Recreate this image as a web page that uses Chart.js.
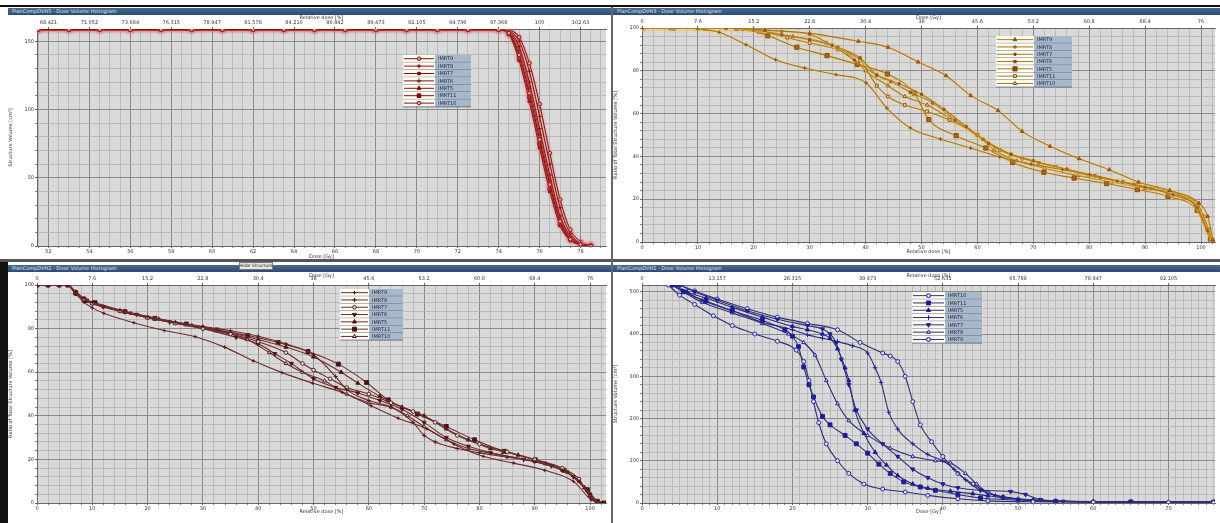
<!DOCTYPE html>
<html>
<head>
<meta charset="utf-8">
<script src="https://cdn.jsdelivr.net/npm/chart.js@4.4.1/dist/chart.umd.min.js"></script>
<style>
  html, body { margin: 0; padding: 0; background: #fff; }
  #page { position: relative; width: 1220px; height: 523px; overflow: hidden; background: #fff; }
  .bar { position: absolute; height: 7px; background: linear-gradient(#4a6a90, #2c4a72); color: #dfe7f0;
         font: 5px "DejaVu Sans", sans-serif; line-height: 7px; padding-left: 4px; box-sizing: border-box; white-space: nowrap; }
  canvas { position: absolute; }
  .btn { position: absolute; left: 239px; top: 262px; width: 34px; height: 8px; background: #e8e8e8; border: 1px solid #777;
         font: 4.5px "DejaVu Sans", sans-serif; line-height: 6px; text-align: center; box-sizing: border-box; color: #222; white-space: nowrap; overflow: hidden; }
</style>
</head>
<body>
<div id="page">
  <div style="position:absolute;left:0;top:5px;width:1220px;height:2px;background:#111"></div>
  <div style="position:absolute;left:0;top:259px;width:1220px;height:3px;background:#555"></div>
  <div style="position:absolute;left:0;top:262px;width:8px;height:261px;background:#111"></div>
  <div style="position:absolute;left:611px;top:7px;width:2px;height:516px;background:#666"></div>
  <div class="bar" style="left:8px;top:8px;width:603px">PlanCompDVH5 - Dose Volume Histogram</div>
  <div class="bar" style="left:613px;top:8px;width:607px">PlanCompDVH3 - Dose Volume Histogram</div>
  <div class="bar" style="left:8px;top:265px;width:603px">PlanCompDVH2 - Dose Volume Histogram</div>
  <div class="bar" style="left:613px;top:265px;width:607px">PlanCompDVH1 - Dose Volume Histogram</div>
  <div class="btn">Hide Structure</div>
  <canvas id="tl" width="603" height="245" style="left:8px;top:15px"></canvas>
  <canvas id="tr" width="607" height="245" style="left:613px;top:15px"></canvas>
  <canvas id="bl" width="603" height="250" style="left:8px;top:273px"></canvas>
  <canvas id="br" width="607" height="250" style="left:613px;top:273px"></canvas>
</div>
<script>
// ---------- top left: PTV, structure volume [cm3] vs dose [Gy] ----------
const TL_NAMES = ['IMRT9', 'IMRT8', 'IMRT7', 'IMRT6', 'IMRT5', 'IMRT11', 'IMRT10']
const TL_DOSE = [51.5, 53, 54.5, 56, 57.5, 59, 60.5, 62, 63.5, 65, 66.5, 68, 69.5, 71, 72.5, 74,
  74.5, 75, 75.5, 76, 76.5, 77, 77.5, 78, 78.5]
const TL_VOL = [
  [158.5, 158.5, 158.5, 158.5, 158.5, 158.5, 158.5, 158.5, 158.5, 158.5, 158.5, 158.5, 158.5, 158.5, 158.5, 158.5, 156, 140, 112, 78, 45, 18, 5, 1, 0],
  [158.5, 158.5, 158.5, 158.5, 158.5, 158.5, 158.5, 158.5, 158.5, 158.5, 158.5, 158.5, 158.5, 158.5, 158.5, 158.5, 157, 146, 120, 86, 52, 22, 7, 1.5, 0.5],
  [158.5, 158.5, 158.5, 158.5, 158.5, 158.5, 158.5, 158.5, 158.5, 158.5, 158.5, 158.5, 158.5, 158.5, 158.5, 158.5, 155, 136, 106, 72, 40, 15, 4, 1, 0],
  [158.5, 158.5, 158.5, 158.5, 158.5, 158.5, 158.5, 158.5, 158.5, 158.5, 158.5, 158.5, 158.5, 158.5, 158.5, 158.5, 157.5, 150, 128, 95, 60, 28, 9, 2, 0.5],
  [158.5, 158.5, 158.5, 158.5, 158.5, 158.5, 158.5, 158.5, 158.5, 158.5, 158.5, 158.5, 158.5, 158.5, 158.5, 158.5, 156.5, 143, 116, 82, 48, 20, 6, 1.5, 0],
  [158.5, 158.5, 158.5, 158.5, 158.5, 158.5, 158.5, 158.5, 158.5, 158.5, 158.5, 158.5, 158.5, 158.5, 158.5, 158.5, 155.5, 138, 109, 75, 42, 16, 5, 1, 0],
  [158.5, 158.5, 158.5, 158.5, 158.5, 158.5, 158.5, 158.5, 158.5, 158.5, 158.5, 158.5, 158.5, 158.5, 158.5, 158.5, 158, 153, 134, 104, 68, 34, 12, 3, 0.5]
]
const TL_X_TICKS = [52, 54, 56, 58, 60, 62, 64, 66, 68, 70, 72, 74, 76, 78]
const TL_X_LABELS = ['52', '54', '56', '58', '60', '62', '64', '66', '68', '70', '72', '74', '76', '78']
const TL_TOP_LABELS = ['68.421', '71.052', '73.684', '76.315', '78.947', '81.578', '84.210', '86.842',
  '89.473', '92.105', '94.736', '97.368', '100', '102.63']
const TL_Y_TICKS = [0, 50, 100, 150]
const TL_Y_LABELS = ['0', '50', '100', '150']

// ---------- top right: ratio of total structure volume [%] vs relative dose [%] ----------
const TR_NAMES = ['IMRT9', 'IMRT8', 'IMRT7', 'IMRT6', 'IMRT5', 'IMRT11', 'IMRT10']
const TR_X = [
  [0, 15, 22, 30, 38.7, 44, 49.4, 54.4, 58.8, 63.7, 68, 73, 78.2, 83.6, 88.8, 94.4, 99.6, 101.2, 102.1],
  [0, 5, 10, 13.8, 18.6, 23.9, 29.1, 34.7, 40.1, 43.8, 48, 53.4, 58.8, 64, 69.6, 75.2, 80.1, 85, 90, 95, 99.3, 101.2, 102.2],
  [0, 5, 10, 15, 20, 25, 30, 34, 38, 42, 46, 50, 54, 58, 62, 66, 70, 76, 82, 88, 94, 99, 101, 102.2],
  [0, 5, 10, 15, 20, 25, 30, 35, 39, 42, 44.5, 48, 52, 56, 61, 66, 71, 76, 81, 86, 91, 96, 99.5, 101.3, 102.2],
  [0, 5.6, 11.3, 16.9, 22.5, 27.7, 33.1, 38.5, 43.9, 48.7, 51.3, 56.2, 61.5, 66.3, 71.9, 77.3, 83.1, 88.6, 94.1, 99.3, 101.7, 102.3],
  [0, 5, 10, 15, 18, 22, 26, 30, 35, 39, 42, 44, 47, 51, 55, 60, 64, 68, 74, 80, 86, 92, 98, 100.5, 102],
  [0, 5, 10, 15, 17, 21, 27, 33, 37, 40, 44, 47, 51, 55, 60, 63, 67, 72, 78, 84, 90, 95, 99.5, 101.5, 102.2]
]
const TR_Y = [
  [100, 100, 99, 97.5, 93.8, 91, 84.1, 77.7, 68.4, 61.4, 51.7, 44.7, 38.9, 33.8, 28, 24.1, 18.2, 12, 1],
  [100, 100, 99.5, 98, 92.2, 85.2, 81.3, 78.2, 74.3, 62.6, 53.3, 48.1, 43.9, 39.7, 36.4, 33.8, 31.5, 28.5, 25.5, 22, 16, 5, 0],
  [100, 100, 100, 100, 99.5, 98.5, 97, 92, 85, 78, 74, 69, 62, 54, 46, 41, 38, 34, 30, 27, 23, 17, 6, 0],
  [100, 100, 100, 100, 99, 97, 94.5, 91, 86, 78, 75, 70, 65, 57, 48, 41, 37, 34, 31, 28, 25, 22, 17, 6, 0],
  [100, 100, 100, 100, 96.4, 91, 87.1, 83, 78.5, 69.6, 57.2, 49.7, 43.9, 37.2, 32.6, 29.9, 27.3, 24.5, 21.3, 14.8, 1.4, 0],
  [100, 100, 100, 100, 99.5, 98, 95.5, 93, 90, 85, 73, 68, 64, 61, 57, 50, 43, 39, 35, 31, 28, 25, 20, 12, 0],
  [100, 100, 100, 100, 99.5, 98, 96, 93, 88, 80, 73, 68, 64, 58, 50, 43, 38, 34.5, 31, 28, 25, 22.5, 16, 4, 0]
]
const PCT_TICKS = [0, 10, 20, 30, 40, 50, 60, 70, 80, 90, 100]
const PCT_LABELS = ['0', '10', '20', '30', '40', '50', '60', '70', '80', '90', '100']
const GY_TOP_LABELS = ['0', '7.6', '15.2', '22.8', '30.4', '38', '45.6', '53.2', '60.8', '68.4', '76']
const RATIO_TICKS = [0, 20, 40, 60, 80, 100]
const RATIO_LABELS = ['0', '20', '40', '60', '80', '100']

// ---------- bottom left: ratio of total structure volume [%] vs relative dose [%] ----------
const BL_NAMES = ['IMRT9', 'IMRT8', 'IMRT7', 'IMRT6', 'IMRT5', 'IMRT11', 'IMRT10']
const BL_X = [
  [0, 2, 4, 5.5, 7, 8.5, 10, 12.1, 17.5, 23, 28.6, 33.9, 39.1, 44.3, 49.8, 55.2, 60.4, 65.3, 70.5, 75.4, 80.7, 86.2, 91.8, 97, 100.2, 102],
  [0, 2, 4, 5.5, 7, 8.5, 10, 15, 20, 25, 30, 35, 40, 45, 50, 54, 56, 60, 64, 68, 70, 72, 76, 80, 85, 90, 95, 98, 100, 101.5],
  [0, 2, 4, 5.5, 7, 8.5, 10, 15, 20, 25, 30, 35, 40, 45, 48, 50, 53, 56, 60, 64, 68, 72, 76, 80, 85, 90, 95, 98, 100, 101.5],
  [0, 2, 4, 5.5, 7, 9, 12, 18, 24, 30, 36, 40, 43, 46, 50, 54, 58, 62, 66, 70, 74, 78, 82, 88, 93, 97, 100, 101.5],
  [0, 2, 4, 5.5, 7, 8.5, 10, 15, 20, 25, 30, 35, 40, 45, 50, 55, 58, 62, 66, 70, 74, 78, 82, 87, 92, 96, 99, 101.5],
  [0, 2, 4, 5.6, 7, 8.5, 10.5, 15.9, 21.3, 27, 32.5, 38.1, 43.6, 49, 54.5, 59.6, 63.5, 68.8, 74, 79.1, 84.5, 90.1, 95.3, 99.5, 101.3, 102.5],
  [0, 2, 4, 5.5, 7, 9, 12, 17, 22, 28, 33, 38, 42, 45, 48, 52, 56, 60, 64, 67, 70, 74, 78, 84, 90, 95, 98, 100, 101.5]
]
const BL_Y = [
  [100, 100, 100, 100, 96, 92, 89.5, 87, 82.7, 79.1, 76.3, 71.5, 65.2, 59.8, 55, 50.7, 44.6, 38.9, 34, 27, 21.4, 18.3, 15, 9.9, 1.5, 0],
  [100, 100, 100, 100, 97, 94, 92, 88.5, 85.5, 83, 81, 79, 76.5, 73, 68, 58, 52, 47, 44, 37, 31, 28, 25, 23, 21, 19, 15, 10, 3, 0],
  [100, 100, 100, 100, 96.5, 93.5, 91.5, 88, 85, 82.5, 80, 77.5, 74, 69, 64, 61, 57, 53, 50, 46, 42, 37, 31, 27, 23.5, 20, 16, 11, 3, 0],
  [100, 100, 100, 100, 96, 93, 90, 86.5, 83, 80, 76, 73, 68.5, 64, 57, 53, 50.5, 47, 43, 37, 30, 26, 23, 20, 17, 12, 4, 0],
  [100, 100, 100, 100, 96, 93, 91.5, 88, 85, 82.5, 80.5, 78, 75, 71.5, 67, 60, 55, 49, 44, 40, 34, 29, 25, 22, 18, 14, 7, 0],
  [100, 100, 100, 100, 96.5, 93.5, 91.9, 87.8, 84.7, 82.1, 79.4, 76.8, 73.6, 69.5, 63.7, 55.3, 47.3, 40.8, 35.1, 29, 23.7, 19.8, 15, 6.1, 0.8, 0],
  [100, 100, 100, 100, 96, 92.5, 90, 87, 84.5, 81.5, 79, 75, 69, 64, 60, 56, 50, 46, 44, 40, 35, 29, 25, 22, 19, 15, 10, 3, 0]
]

// ---------- bottom right: structure volume [cm3] vs dose [Gy] ----------
const BR_NAMES = ['IMRT10', 'IMRT11', 'IMRT5', 'IMRT6', 'IMRT7', 'IMRT8', 'IMRT9']
const BR_X = [
  [3.5, 5, 7, 9.5, 12, 15, 18, 20.5, 21.5, 22.2, 22.8, 23.5, 24.5, 26, 27.5, 29.5, 32, 35, 38, 42, 46, 52, 60, 70, 76],
  [4, 5.5, 8.5, 12, 16, 19, 20, 20.8, 21.5, 22.2, 22.8, 24, 25, 27, 28.5, 30, 31.5, 33, 34.8, 37, 39, 42, 45, 50, 55, 65, 76],
  [4.5, 6, 8.5, 12, 16, 20, 22, 24, 25, 26, 27, 27.5, 28.3, 29.5, 31, 32.5, 34, 36, 38, 41, 44, 46, 48, 52, 60, 76],
  [4, 6, 8, 12, 16, 20, 22, 24, 26, 28, 30, 31, 31.8, 32.8, 34, 36, 38, 40, 41.5, 43, 45, 47, 50, 55, 65, 76],
  [5, 7, 10, 14, 18, 22, 24, 25, 25.8, 26.5, 27.5, 28.5, 30, 32, 34, 36, 38, 40, 42, 45, 49, 51, 53, 56, 65, 76],
  [4, 5.5, 8, 12, 16, 19.5, 21.5, 23, 24.5, 26, 27.5, 30, 33, 36, 39, 41, 43, 44.5, 46, 48, 52, 60, 76],
  [5, 7, 10, 14, 18, 22, 26, 29, 32, 33, 34, 35, 36, 37, 38.5, 40, 42, 44, 46, 48, 52, 60, 76]
]
const BR_Y = [
  [516, 492, 470, 443, 420, 400, 383, 362, 335, 290, 240, 190, 140, 100, 70, 45, 33, 26, 18, 10, 5, 3, 2, 1.5, 1],
  [516, 500, 478, 455, 432, 410, 395, 370, 322, 280, 251, 205, 185, 160, 140, 118, 92, 70, 50, 38, 30, 20, 12, 7, 4, 2.5, 2],
  [516, 500, 485, 463, 440, 418, 410, 400, 390, 365, 320, 290, 220, 165, 120, 90, 65, 45, 35, 28, 22, 17, 12, 7, 3, 2],
  [516, 498, 480, 455, 428, 410, 398, 390, 382, 372, 355, 320, 285, 215, 175, 140, 115, 100, 80, 55, 30, 18, 10, 5, 3, 2],
  [516, 500, 480, 455, 435, 420, 412, 400, 380, 340, 280, 220, 175, 140, 110, 80, 60, 45, 36, 30, 27, 20, 8, 4, 2.5, 2],
  [516, 500, 475, 450, 425, 400, 380, 350, 290, 235, 195, 160, 130, 110, 100, 95, 70, 45, 25, 14, 6, 3, 2],
  [516, 502, 483, 460, 440, 425, 410, 380, 355, 348, 335, 300, 240, 185, 145, 110, 70, 45, 25, 14, 6, 3, 2]
]
const BR_X_TICKS = [0, 10, 20, 30, 40, 50, 60, 70]
const BR_X_LABELS = ['0', '10', '20', '30', '40', '50', '60', '70']
const BR_TOP_LABELS = ['0', '13.157', '26.315', '39.473', '52.631', '65.789', '78.947', '92.105']
const BR_Y_TICKS = [0, 100, 200, 300, 400, 500]
const BR_Y_LABELS = ['0', '100', '200', '300', '400', '500']

// ---------- styling ----------
const FONT = { family: 'DejaVu Sans', size: 5 }
const MAJOR = '#8a8a8a'
const MINOR = '#b4b4b4'

// marker per legend row: [pointStyle, radius, filled, rotation]
const TL_MARK = [['circle', 1.8, false, 0], ['cross', 2.2, false, 0], ['rect', 1.8, true, 0], ['cross', 2.4, false, 0],
  ['triangle', 2.2, true, 0], ['rect', 2.6, true, 0], ['circle', 1.8, false, 0]]
const TR_MARK = [['triangle', 2.1, true, 0], ['cross', 2, false, 0], ['circle', 1.3, true, 0], ['rect', 1.7, true, 0],
  ['rect', 3, true, 0], ['rect', 2, false, 0], ['triangle', 2.1, false, 0]]
const BL_MARK = [['cross', 1.8, false, 0], ['cross', 2.1, false, 0], ['circle', 1.8, false, 0], ['triangle', 2.3, true, 180],
  ['triangle', 2.3, true, 0], ['rect', 2.8, true, 0], ['triangle', 2.1, false, 0]]
const BR_MARK = [['circle', 2, false, 0], ['rect', 2.8, true, 0], ['triangle', 2.4, true, 0], ['cross', 2.3, false, 0],
  ['triangle', 2.4, true, 180], ['triangle', 2.2, false, 0], ['circle', 2, false, 0]]

function gridTicks (min, max, step) {
  const out = []
  for (let v = Math.ceil(min / step - 1e-9) * step; v <= max + 1e-9; v += step) out.push(+v.toFixed(4))
  return out
}

function axis (pos, min, max, minor, majors, labels, title, size, withGrid) {
  const isMajor = v => majors.some(m => Math.abs(m - v) < 1e-6)
  return {
    type: 'linear',
    position: pos,
    min: min,
    max: max,
    afterBuildTicks: s => { s.ticks = (withGrid ? gridTicks(min, max, minor) : majors).map(v => ({ value: v })) },
    afterFit: s => {
      if (pos === 'left') s.width = size
      else s.height = size
      s.paddingLeft = 0; s.paddingRight = 0; s.paddingTop = 0; s.paddingBottom = 0
    },
    ticks: {
      autoSkip: false,
      maxRotation: 0,
      font: FONT,
      color: '#333',
      padding: 1,
      callback: v => {
        const i = majors.findIndex(m => Math.abs(m - v) < 1e-6)
        return i < 0 ? '' : labels[i]
      }
    },
    grid: withGrid
      ? { color: c => (isMajor(c.tick.value) ? MAJOR : MINOR), lineWidth: c => (isMajor(c.tick.value) ? 1 : 0.8), tickLength: 2, tickColor: '#666' }
      : { drawOnChartArea: false, tickLength: 2, color: '#666' },
    border: { color: '#666' },
    title: { display: true, text: title, font: FONT, color: '#333', padding: 0 }
  }
}

const legendBox = {
  id: 'legendBox',
  afterDraw (chart, args, o) {
    const ctx = chart.ctx
    ctx.save()
    chart.data.datasets.forEach((ds, i) => {
      const ry = o.y + i * o.rowH
      const cy = ry + o.rowH / 2
      ctx.fillStyle = '#fffdf3'
      ctx.fillRect(o.x, ry, o.wl, o.rowH)
      ctx.fillStyle = '#a8b7c9'
      ctx.fillRect(o.x + o.wl, ry, o.wr, o.rowH)
      ctx.strokeStyle = ds.borderColor
      ctx.lineWidth = 1
      ctx.beginPath()
      ctx.moveTo(o.x + 1, cy)
      ctx.lineTo(o.x + o.wl - 1, cy)
      ctx.stroke()
      ctx.fillStyle = ds.pointBackgroundColor
      ctx.strokeStyle = ds.pointBorderColor
      Chart.helpers.drawPoint(ctx, { pointStyle: ds.pointStyle, rotation: ds.pointRotation, radius: ds.pointRadius, borderWidth: 1 }, o.x + o.wl / 2, cy)
      ctx.fillStyle = '#1d2a44'
      ctx.font = '5px "DejaVu Sans"'
      ctx.textBaseline = 'middle'
      ctx.fillText(ds.label, o.x + o.wl + 3, cy + 0.5)
      ctx.strokeStyle = '#4f5f74'
      ctx.lineWidth = 0.8
      ctx.beginPath()
      ctx.moveTo(o.x, ry + o.rowH)
      ctx.lineTo(o.x + o.wl + o.wr, ry + o.rowH)
      ctx.stroke()
    })
    ctx.restore()
  }
}

const glow = {
  id: 'glow',
  beforeDatasetsDraw (chart, args, o) {
    if (!o.color) return
    chart.ctx.save()
    chart.ctx.shadowColor = o.color
    chart.ctx.shadowBlur = o.blur
  },
  afterDatasetsDraw (chart, args, o) {
    if (!o.color) return
    chart.ctx.restore()
  }
}

function datasets (names, xs, ys, marks, color, fill, hollow) {
  return names.map((n, i) => {
    const m = marks[i]
    return {
      label: n,
      data: xs[i].map((x, j) => ({ x: x, y: ys[i][j] })),
      borderColor: color,
      borderWidth: 1.1,
      pointStyle: m[0],
      pointRadius: m[1],
      pointRotation: m[3],
      pointBorderWidth: 0.9,
      pointBackgroundColor: m[2] ? fill : hollow,
      pointBorderColor: fill,
      cubicInterpolationMode: 'monotone',
      fill: false
    }
  })
}

function build (id, sets, scales, legend, glowOpt, pad) {
  return new Chart(document.getElementById(id).getContext('2d'), {
    type: 'line',
    data: { datasets: sets },
    options: {
      responsive: false,
      animation: false,
      devicePixelRatio: 1,
      layout: { padding: pad },
      scales: scales,
      plugins: {
        legend: { display: false },
        tooltip: { enabled: false },
        legendBox: legend,
        glow: glowOpt
      }
    },
    plugins: [
      { id: 'bg', beforeDraw: c => { const a = c.chartArea; c.ctx.save(); c.ctx.fillStyle = '#d9d9d9'; c.ctx.fillRect(a.left, a.top, a.right - a.left, a.bottom - a.top); c.ctx.restore() } },
      legendBox, glow
    ]
  })
}

const tlX = TL_NAMES.map(() => TL_DOSE)
build('tl', datasets(TL_NAMES, tlX, TL_VOL, TL_MARK, '#8a0f0f', '#7a0808', '#e8b0b0'), {
  x: axis('bottom', 51.44, 79.25, 0.5, TL_X_TICKS, TL_X_LABELS, 'Dose [Gy]', 14, true),
  x2: axis('top', 51.44, 79.25, 0.5, TL_X_TICKS, TL_TOP_LABELS, 'Relative dose [%]', 14, false),
  y: axis('left', 0, 159, 10, TL_Y_TICKS, TL_Y_LABELS, 'Structure Volume [cm\u00b3]', 29, true)
}, { x: 395, y: 40, wl: 32, wr: 36, rowH: 7.4 }, { color: 'rgba(235,120,120,0.75)', blur: 3 }, { left: 0, right: 1, top: 0, bottom: 0 })

build('tr', datasets(TR_NAMES, TR_X, TR_Y, TR_MARK, '#a67812', '#85480f', '#f0e0c0'), {
  x: axis('bottom', 0, 102.5, 2, PCT_TICKS, PCT_LABELS, 'Relative dose [%]', 13, true),
  x2: axis('top', 0, 102.5, 2, PCT_TICKS, GY_TOP_LABELS, 'Dose [Gy]', 13, false),
  y: axis('left', 0, 100, 4, RATIO_TICKS, RATIO_LABELS, 'Ratio of Total Structure Volume [%]', 29, true)
}, { x: 383, y: 21, wl: 38, wr: 38, rowH: 7.3 }, { color: 'rgba(250,205,120,0.8)', blur: 3 }, { left: 0, right: 5, top: 0, bottom: 5 })

build('bl', datasets(BL_NAMES, BL_X, BL_Y, BL_MARK, '#6e2c2c', '#4a1414', '#e8dede'), {
  x: axis('bottom', 0, 102.9, 2, PCT_TICKS, PCT_LABELS, 'Relative dose [%]', 12, true),
  x2: axis('top', 0, 102.9, 2, PCT_TICKS, GY_TOP_LABELS, 'Dose [Gy]', 12, false),
  y: axis('left', 0, 100, 4, RATIO_TICKS, RATIO_LABELS, 'Ratio of Total Structure Volume [%]', 29, true)
}, { x: 332, y: 16, wl: 29, wr: 34, rowH: 7.3 }, {}, { left: 0, right: 1, top: 0, bottom: 8 })

build('br', datasets(BR_NAMES, BR_X, BR_Y, BR_MARK, '#2e2e78', '#1c1c96', '#dcdcec'), {
  x: axis('bottom', 0, 76.2, 1, BR_X_TICKS, BR_X_LABELS, 'Dose [Gy]', 12, true),
  x2: axis('top', 0, 76.2, 1, BR_X_TICKS, BR_TOP_LABELS, 'Relative dose [%]', 12, false),
  y: axis('left', 0, 516, 20, BR_Y_TICKS, BR_Y_LABELS, 'Structure Volume [cm\u00b3]', 29, true)
}, { x: 299, y: 19, wl: 33, wr: 37, rowH: 7.3 }, {}, { left: 0, right: 3, top: 0, bottom: 8 })
</script>
</body>
</html>
